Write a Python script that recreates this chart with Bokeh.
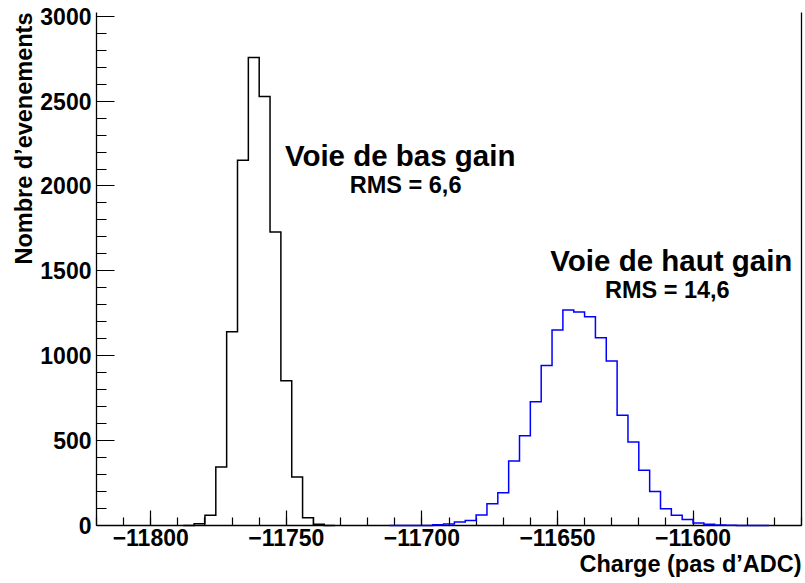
from bokeh.plotting import figure
from bokeh.models import Label, LinearAxis, SingleIntervalTicker, FixedTicker, BasicTickFormatter, Title
from bokeh.embed import file_html
from bokeh.resources import INLINE

# ---- data ----
bin_width = 4
low_gain_first_edge = -11788
low_gain_counts = [0, 10, 60, 344, 1142, 2152, 2757, 2527, 1729, 852, 285, 45, 8, 0]

high_gain_first_edge = -11712
high_gain_counts = [0, 0, 0, 0, 5, 9, 20, 30, 62, 128, 193, 380, 528, 729, 943,
                    1152, 1270, 1258, 1230, 1106, 969, 650, 492, 325, 201, 98,
                    60, 36, 15, 8, 3, 1, 0, 0, 0]

x_label = "Charge (pas d’ADC)"
y_label = "Nombre d’evenements"
low_title = "Voie de bas gain"
low_rms = "RMS = 6,6"
high_title = "Voie de haut gain"
high_rms = "RMS = 14,6"

FONT = "Liberation Sans"

p = figure(width=805, height=583, x_range=(-11820, -11560), y_range=(0, 3022),
           output_backend="svg", toolbar_location=None,
           min_border_left=96, min_border_right=4, min_border_top=12, min_border_bottom=58)
p.outline_line_color = None
p.xgrid.visible = False
p.ygrid.visible = False
p.background_fill_color = "white"
p.border_fill_color = "white"


def draw_hist(first, counts, color):
    lowers = [first + bin_width * i for i in range(len(counts))]
    xs = [lowers[0]] + lowers + [lowers[-1] + bin_width]
    ys = [0] + list(counts) + [0]
    p.step(xs, ys, mode="after", line_color=color, line_width=1.5, line_join="miter",
           level="overlay")


draw_hist(low_gain_first_edge, low_gain_counts, "black")
draw_hist(high_gain_first_edge, high_gain_counts, "#0000ff")

# axes
for ax in (p.xaxis[0], p.yaxis[0]):
    ax.axis_line_color = "black"
    ax.axis_line_width = 1.3
    ax.major_tick_line_color = "black"
    ax.minor_tick_line_color = "black"
    ax.major_tick_line_width = 1.2
    ax.minor_tick_line_width = 1.2
    ax.major_tick_out = 0
    ax.minor_tick_out = 0
    ax.major_label_text_font = FONT
    ax.major_label_text_font_style = "bold"
    ax.major_label_text_font_size = "23px"
    ax.major_label_text_color = "black"

p.xaxis[0].ticker = SingleIntervalTicker(interval=50, num_minor_ticks=5)
p.xaxis[0].formatter = BasicTickFormatter(use_scientific=False)
p.xaxis[0].major_tick_in = 15
p.xaxis[0].minor_tick_in = 8
p.xaxis[0].major_label_standoff = 3

p.yaxis[0].ticker = SingleIntervalTicker(interval=500, num_minor_ticks=5)
p.yaxis[0].formatter = BasicTickFormatter(use_scientific=False)
p.yaxis[0].major_tick_in = 18
p.yaxis[0].minor_tick_in = 10
p.yaxis[0].major_label_standoff = 5

right_axis = LinearAxis(ticker=FixedTicker(ticks=[]), major_label_text_font_size="0px",
                        major_tick_line_color=None, minor_tick_line_color=None,
                        axis_line_color="black", axis_line_width=1.3,
                        major_label_standoff=0)
p.add_layout(right_axis, "right")

# axis titles, aligned to the end of each axis (ROOT style)
p.add_layout(Title(text=x_label, align="right", standoff=0, offset=0,
                   text_font=FONT, text_font_style="bold", text_font_size="23.5px",
                   text_color="black"), "below")
p.add_layout(Title(text=y_label, align="right", standoff=1, offset=0,
                   text_font=FONT, text_font_style="bold", text_font_size="23.5px",
                   text_color="black"), "left")

# annotations
def add_text(x, y, text, size):
    p.add_layout(Label(x=x, y=y, text=text, text_align="center", text_baseline="alphabetic",
                       text_font=FONT, text_font_style="bold", text_font_size=size,
                       text_color="black"))

add_text(-11708, 2182, low_title, "29.5px")
add_text(-11706, 2006, low_rms, "23.5px")
add_text(-11608, 1564, high_title, "29.5px")
add_text(-11609.5, 1388, high_rms, "23.5px")

open("out.html", "w").write(file_html(p, INLINE))
